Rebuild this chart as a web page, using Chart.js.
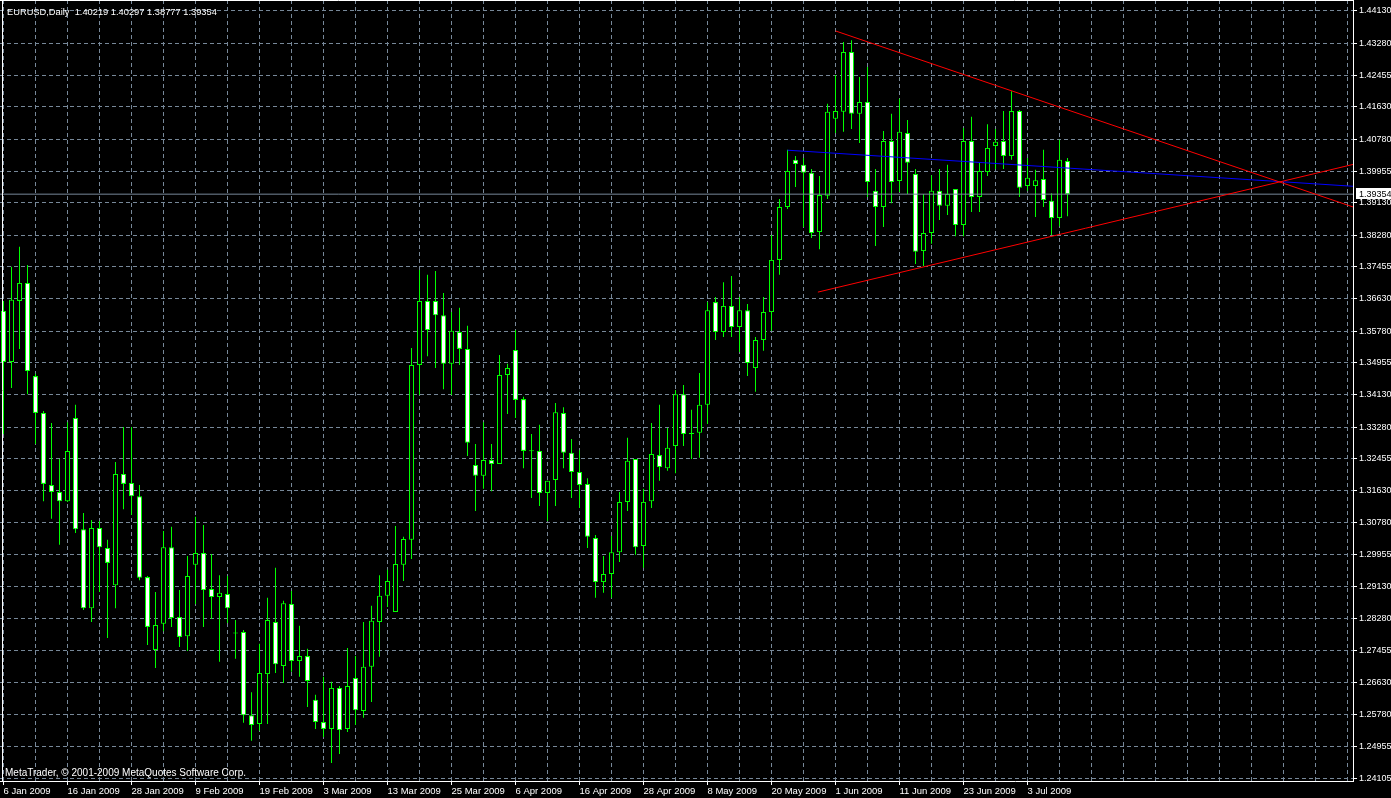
<!DOCTYPE html>
<html>
<head>
<meta charset="utf-8">
<title>EURUSD Daily</title>
<script src="https://cdn.jsdelivr.net/npm/chart.js@4.4.1/dist/chart.umd.min.js"></script>
<style>
  html, body { margin: 0; padding: 0; background: #000; overflow: hidden; }
  canvas { display: block; }
</style>
</head>
<body>
<canvas id="chart" width="1391" height="798"></canvas>
<script>
const symbolTitle = "EURUSD,Daily";
const copyright = "MetaTrader, \u00a9 2001-2009 MetaQuotes Software Corp.";

// one label every 8 daily bars, first bar = 6 Jan 2009
const labelEvery = 8;
const dateLabels = [
  "6 Jan 2009", "16 Jan 2009", "28 Jan 2009", "9 Feb 2009", "19 Feb 2009",
  "3 Mar 2009", "13 Mar 2009", "25 Mar 2009", "6 Apr 2009", "16 Apr 2009",
  "28 Apr 2009", "8 May 2009", "20 May 2009", "1 Jun 2009", "11 Jun 2009",
  "23 Jun 2009", "3 Jul 2009"
];

const opens = [
  1.3631, 1.3498, 1.3657, 1.3704, 1.3461, 1.3365, 1.3177, 1.3159, 1.3135, 1.3352,
  1.3062, 1.2856, 1.3065, 1.3013, 1.2916, 1.3206, 1.3182, 1.3148, 1.2937, 1.2747,
  1.2815, 1.3015, 1.2833, 1.2783, 1.2969, 1.3000, 1.2906, 1.2885, 1.2893, 1.2791,
  1.2794, 1.2577, 1.2554, 1.2684, 1.2820, 1.2705, 1.2867, 1.2718, 1.2731, 1.2617,
  1.2559, 1.2541, 1.2648, 1.2541, 1.2674, 1.2588, 1.2703, 1.2820, 1.2888, 1.2846,
  1.2969, 1.3034, 1.3490, 1.3657, 1.3657, 1.3620, 1.3493, 1.3576, 1.3532, 1.3229,
  1.3201, 1.3242, 1.3232, 1.3464, 1.3529, 1.3401, 1.3266, 1.3266, 1.3156, 1.3190,
  1.3365, 1.3261, 1.3211, 1.3180, 1.3039, 1.2924, 1.2945, 1.3002, 1.3133, 1.3245,
  1.3018, 1.3135, 1.3255, 1.3221, 1.3279, 1.3414, 1.3310, 1.3313, 1.3386, 1.3654,
  1.3576, 1.3644, 1.3589, 1.3633, 1.3482, 1.3555, 1.3628, 1.3764, 1.3902, 1.4025,
  1.4012, 1.3991, 1.3837, 1.3931, 1.4132, 1.4150, 1.4306, 1.4145, 1.4176, 1.3944,
  1.3902, 1.4074, 1.3970, 1.4095, 1.3988, 1.3787, 1.3834, 1.3944, 1.3905, 1.3949,
  1.3855, 1.4074, 1.3928, 1.3993, 1.4061, 1.4074, 1.4035, 1.4152, 1.3957, 1.3957,
  1.3975, 1.3918, 1.3873, 1.40219
];
const highs = [
  1.3657, 1.3746, 1.3798, 1.3751, 1.3467, 1.3370, 1.3339, 1.3245, 1.3341, 1.3386,
  1.3104, 1.3086, 1.3083, 1.3034, 1.3237, 1.3328, 1.3328, 1.3177, 1.2940, 1.2898,
  1.3057, 1.3068, 1.2903, 1.2992, 1.3094, 1.3073, 1.2997, 1.2942, 1.2940, 1.2825,
  1.2799, 1.2637, 1.2763, 1.2883, 1.2961, 1.2875, 1.2901, 1.2810, 1.2750, 1.2630,
  1.2677, 1.2664, 1.2653, 1.2752, 1.2731, 1.2820, 1.2862, 1.2942, 1.2956, 1.3070,
  1.3042, 1.3534, 1.3738, 1.3725, 1.3735, 1.3678, 1.3628, 1.3639, 1.3592, 1.3284,
  1.3341, 1.3284, 1.3516, 1.3493, 1.3581, 1.3407, 1.3310, 1.3334, 1.3188, 1.3391,
  1.3380, 1.3297, 1.3268, 1.3195, 1.3047, 1.2992, 1.3044, 1.3159, 1.3300, 1.3245,
  1.3167, 1.3339, 1.3386, 1.3326, 1.3425, 1.3438, 1.3373, 1.3469, 1.3654, 1.3667,
  1.3706, 1.3722, 1.3667, 1.3649, 1.3563, 1.3667, 1.3829, 1.3923, 1.4051, 1.4035,
  1.4030, 1.4001, 1.3983, 1.4171, 1.4246, 1.4332, 1.4337, 1.4241, 1.4267, 1.4001,
  1.4100, 1.4145, 1.4184, 1.4129, 1.4001, 1.3936, 1.3985, 1.4001, 1.4012, 1.3949,
  1.4108, 1.4137, 1.4017, 1.4118, 1.4105, 1.4152, 1.4204, 1.4155, 1.4030, 1.3999,
  1.4051, 1.3938, 1.4077, 1.40297
];
const lows = [
  1.3310, 1.3430, 1.3532, 1.3414, 1.3284, 1.3135, 1.3089, 1.3021, 1.3133, 1.3052,
  1.2851, 1.2820, 1.2898, 1.2778, 1.2856, 1.3114, 1.3099, 1.2929, 1.2760, 1.2700,
  1.2796, 1.2807, 1.2755, 1.2744, 1.2867, 1.2807, 1.2828, 1.2716, 1.2817, 1.2724,
  1.2557, 1.2510, 1.2536, 1.2554, 1.2687, 1.2661, 1.2690, 1.2677, 1.2598, 1.2541,
  1.2520, 1.2452, 1.2476, 1.2533, 1.2551, 1.2570, 1.2611, 1.2729, 1.2859, 1.2846,
  1.2927, 1.2984, 1.3412, 1.3513, 1.3482, 1.3427, 1.3412, 1.3490, 1.3253, 1.3109,
  1.3167, 1.3161, 1.3232, 1.3362, 1.3352, 1.3221, 1.3143, 1.3122, 1.3083, 1.3122,
  1.3221, 1.3143, 1.3117, 1.3013, 1.2883, 1.2896, 1.2883, 1.2976, 1.3109, 1.2995,
  1.2961, 1.3117, 1.3188, 1.3214, 1.3208, 1.3279, 1.3245, 1.3248, 1.3336, 1.3555,
  1.3563, 1.3563, 1.3524, 1.3461, 1.3420, 1.3527, 1.3579, 1.3725, 1.3897, 1.3954,
  1.3850, 1.3821, 1.3792, 1.3923, 1.4095, 1.4098, 1.4105, 1.4069, 1.3928, 1.3800,
  1.3850, 1.3912, 1.3941, 1.3936, 1.3753, 1.3748, 1.3806, 1.3868, 1.3881, 1.3826,
  1.3826, 1.3889, 1.3889, 1.3983, 1.4001, 1.4001, 1.4025, 1.3928, 1.3944, 1.3876,
  1.3902, 1.3829, 1.3852, 1.38777
];
const closes = [
  1.3498, 1.3660, 1.3704, 1.3474, 1.3365, 1.3180, 1.3159, 1.3135, 1.3266, 1.3062,
  1.2856, 1.3065, 1.3015, 1.2974, 1.3206, 1.3180, 1.3148, 1.2935, 1.2807, 1.2812,
  1.3015, 1.2830, 1.2781, 1.2940, 1.3000, 1.2903, 1.2885, 1.2896, 1.2856, 1.2790,
  1.2577, 1.2551, 1.2687, 1.2825, 1.2710, 1.2869, 1.2718, 1.2731, 1.2666, 1.2559,
  1.2541, 1.2648, 1.2538, 1.2653, 1.2590, 1.2703, 1.2823, 1.2888, 1.2927, 1.2971,
  1.3036, 1.3490, 1.3657, 1.3581, 1.3620, 1.3493, 1.3579, 1.3532, 1.3287, 1.3201,
  1.3242, 1.3232, 1.3464, 1.3482, 1.3399, 1.3266, 1.3265, 1.3156, 1.3188, 1.3367,
  1.3261, 1.3211, 1.3177, 1.3042, 1.2924, 1.2945, 1.3002, 1.3133, 1.3240, 1.3015,
  1.3133, 1.3258, 1.3224, 1.3274, 1.3414, 1.3310, 1.3310, 1.3386, 1.3633, 1.3576,
  1.3644, 1.3589, 1.3633, 1.3495, 1.3555, 1.3628, 1.3764, 1.3902, 1.3996, 1.4014,
  1.3991, 1.3834, 1.3933, 1.4150, 1.4152, 1.4306, 1.4145, 1.4176, 1.3967, 1.3902,
  1.4074, 1.3967, 1.4098, 1.4017, 1.3785, 1.3834, 1.3944, 1.3905, 1.3936, 1.3855,
  1.4074, 1.3928, 1.3996, 1.4056, 1.4072, 1.4035, 1.4152, 1.3952, 1.3978, 1.3972,
  1.3920, 1.3873, 1.4025, 1.39354
];

// right price scale labels as MetaTrader printed them
const priceTicks = [
  1.44130, 1.43280, 1.42455, 1.41630, 1.40780, 1.39955, 1.39130, 1.38280, 1.37455,
  1.36630, 1.35780, 1.34955, 1.34130, 1.33280, 1.32455, 1.31630, 1.30780, 1.29955,
  1.29130, 1.28280, 1.27455, 1.26630, 1.25780, 1.24955, 1.24105
];
const bidPrice = 1.39354;

// hand drawn objects: bar index and price of each end
const upperLineX = [104, 168.7];
const upperLineY = [1.4361, 1.3902];
const lowerLineX = [101.8, 168.7];
const lowerLineY = [1.3680, 1.4013];
const blueLineX = [98, 168.7];
const blueLineY = [1.4050, 1.3956];

const xMin = -0.4375, xMax = 168.6875;
const yMin = 1.240528, yMax = 1.444168;

const GREEN = "#00ff00";
const GRID = "#778899";
const FONT = "'Liberation Sans', Arial, sans-serif";

const wickData = [], bodyData = [], bodyFill = [];
for (let i = 0; i < opens.length; i++) {
  wickData.push({ x: i, y: [lows[i], highs[i]] });
  bodyData.push({ x: i, y: [Math.min(opens[i], closes[i]), Math.max(opens[i], closes[i])] });
  bodyFill.push(closes[i] > opens[i] ? "#000000" : "#ffffff");
}

function pts(xs, ys) {
  return xs.map((x, i) => ({ x: x, y: ys[i] }));
}

const mtOverlay = {
  id: "mtOverlay",
  afterDraw(chart) {
    const ctx = chart.ctx;
    const area = chart.chartArea;
    const last = opens.length - 1;
    ctx.save();
    // window frame
    ctx.strokeStyle = "#ffffff";
    ctx.lineWidth = 1;
    ctx.beginPath();
    ctx.moveTo(2.5, 0);
    ctx.lineTo(2.5, area.bottom);
    ctx.moveTo(0, 0.5);
    ctx.lineTo(area.right, 0.5);
    ctx.stroke();

    ctx.fillStyle = "#ffffff";
    ctx.textBaseline = "alphabetic";
    ctx.font = "9.3px " + FONT;
    ctx.fillText(
      symbolTitle + "  " + opens[last].toFixed(5) + " " + highs[last].toFixed(5) + " " +
        lows[last].toFixed(5) + " " + closes[last].toFixed(5),
      7, 15
    );
    ctx.font = "10px " + FONT;
    ctx.fillText(copyright, 5, 776);

    // current price marker on the scale
    const y = chart.scales.y.getPixelForValue(bidPrice);
    ctx.fillStyle = "#ffffff";
    ctx.fillRect(area.right + 3, Math.round(y) - 6, 40, 11);
    ctx.fillStyle = "#000000";
    ctx.font = "9px " + FONT;
    ctx.textBaseline = "middle";
    ctx.fillText(bidPrice.toFixed(5), area.right + 6, y);
    ctx.restore();
  }
};

new Chart(document.getElementById("chart"), {
  type: "bar",
  data: {
    datasets: [
      {
        type: "line",
        data: pts(upperLineX, upperLineY),
        borderColor: "#ff0000",
        borderWidth: 1,
        pointRadius: 0,
        order: -1
      },
      {
        type: "line",
        data: pts(lowerLineX, lowerLineY),
        borderColor: "#ff0000",
        borderWidth: 1,
        pointRadius: 0,
        order: -1
      },
      {
        type: "line",
        data: pts(blueLineX, blueLineY),
        borderColor: "#0000ff",
        borderWidth: 1,
        pointRadius: 0,
        order: -1
      },
      {
        type: "line",
        data: pts([xMin, xMax], [bidPrice, bidPrice]),
        borderColor: GRID,
        borderWidth: 1,
        pointRadius: 0,
        order: -1
      },
      {
        data: bodyData,
        backgroundColor: bodyFill,
        borderColor: GREEN,
        borderWidth: 1,
        borderSkipped: false,
        barThickness: 5,
        minBarLength: 1,
        inflateAmount: 0,
        grouped: false,
        order: 0
      },
      {
        data: wickData,
        backgroundColor: GREEN,
        borderWidth: 0,
        barThickness: 1,
        inflateAmount: 0,
        grouped: false,
        order: 1
      }
    ]
  },
  options: {
    responsive: false,
    animation: false,
    devicePixelRatio: 1,
    events: [],
    layout: { padding: 0 },
    plugins: {
      legend: { display: false },
      tooltip: { enabled: false }
    },
    scales: {
      x: {
        type: "linear",
        min: xMin,
        max: xMax,
        offset: false,
        bounds: "data",
        afterBuildTicks: (scale) => {
          const ticks = [];
          for (let v = 0; v <= xMax; v += labelEvery / 2) ticks.push({ value: v });
          scale.ticks = ticks;
        },
        afterFit: (scale) => {
          scale.height = 17;
          scale.paddingLeft = 0;
          scale.paddingRight = 0;
        },
        grid: {
          offset: false,
          color: GRID,
          lineWidth: 1,
          tickLength: 4,
          tickColor: (c) =>
            c.tick && c.tick.value % labelEvery === 0 && dateLabels[c.tick.value / labelEvery]
              ? "#ffffff"
              : "rgba(0,0,0,0)"
        },
        border: { display: true, color: "#ffffff", width: 1, dash: [4, 3] },
        ticks: {
          autoSkip: false,
          maxRotation: 0,
          align: "start",
          padding: 1,
          color: "#ffffff",
          font: { family: FONT, size: 9.5 },
          callback: (v) => (v % labelEvery === 0 ? dateLabels[v / labelEvery] || "" : "")
        }
      },
      y: {
        type: "linear",
        position: "right",
        min: yMin,
        max: yMax,
        beginAtZero: false,
        bounds: "data",
        afterBuildTicks: (scale) => {
          scale.ticks = priceTicks.map((v) => ({ value: v }));
        },
        afterFit: (scale) => {
          scale.width = 38;
          scale.paddingTop = 0;
          scale.paddingBottom = 0;
        },
        grid: {
          color: GRID,
          lineWidth: 1,
          tickLength: 4,
          tickColor: "#ffffff"
        },
        border: { display: true, color: "#ffffff", width: 1, dash: [4, 3] },
        ticks: {
          padding: 2,
          color: "#ffffff",
          font: { family: FONT, size: 9 },
          callback: (v) => v.toFixed(5)
        }
      }
    }
  },
  plugins: [mtOverlay]
});
</script>
</body>
</html>
